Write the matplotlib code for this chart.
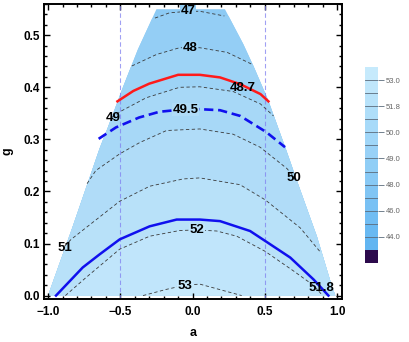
import numpy as np
import matplotlib
matplotlib.use("Agg")
import matplotlib.pyplot as plt
from matplotlib.patches import Polygon
from matplotlib.colors import LinearSegmentedColormap

plt.rcParams['font.family'] = ['Liberation Sans', 'DejaVu Sans']

# 区域边界 (a, g)
dom_a = [-1.0, -0.83, -0.644, -0.586, -0.482, -0.378, -0.25, 0.224, 0.351, 0.421,
         0.525, 0.595, 0.641, 0.733, 0.861, 0.965, 0.988]
dom_g = [0.0, 0.132, 0.282, 0.323, 0.40, 0.473, 0.55, 0.55, 0.483, 0.441,
         0.374, 0.320, 0.285, 0.212, 0.113, 0.017, 0.0]

# 等高线 (虚线)
levels = [47, 48, 49, 50, 51, 52, 53]
c47_a = [-0.26, -0.16, -0.03, 0.05, 0.22]
c47_g = [0.533, 0.543, 0.546, 0.546, 0.537]
c48_a = [-0.42, -0.25, -0.09, 0.05, 0.24, 0.42]
c48_g = [0.441, 0.463, 0.476, 0.476, 0.467, 0.443]
c49_a = [-0.56, -0.49, -0.32, -0.09, 0.05, 0.28, 0.47, 0.56]
c49_g = [0.342, 0.355, 0.38, 0.40, 0.401, 0.392, 0.368, 0.345]
c50_a = [-0.73, -0.67, -0.505, -0.365, -0.18, 0.05, 0.28, 0.467, 0.653, 0.72]
c50_g = [0.215, 0.240, 0.272, 0.294, 0.317, 0.320, 0.31, 0.285, 0.244, 0.222]
c51_a = [-0.885, -0.84, -0.505, -0.297, -0.065, 0.05, 0.328, 0.502, 0.745, 0.88]
c51_g = [0.095, 0.108, 0.181, 0.21, 0.224, 0.226, 0.213, 0.184, 0.13, 0.085]
c52_a = [-0.88, -0.74, -0.505, -0.297, -0.088, 0.03, 0.167, 0.306, 0.502, 0.70, 0.84, 0.90]
c52_g = [0.0, 0.034, 0.089, 0.114, 0.125, 0.126, 0.124, 0.114, 0.085, 0.047, 0.019, 0.0]
c53_a = [-0.343, -0.18, -0.05, 0.05, 0.34]
c53_g = [0.0, 0.012, 0.02, 0.022, 0.0]
contours = [(c47_a, c47_g), (c48_a, c48_g), (c49_a, c49_g), (c50_a, c50_g),
            (c51_a, c51_g), (c52_a, c52_g), (c53_a, c53_g)]

# 特殊等高线
red_a = [-0.52, -0.41, -0.30, -0.10, 0.05, 0.19, 0.33, 0.47, 0.525]
red_g = [0.373, 0.393, 0.407, 0.424, 0.424, 0.419, 0.406, 0.387, 0.373]
bd_a = [-0.65, -0.53, -0.37, -0.23, -0.05, 0.05, 0.19, 0.33, 0.51, 0.64]
bd_g = [0.301, 0.323, 0.342, 0.353, 0.358, 0.358, 0.356, 0.345, 0.314, 0.285]
bs_a = [-0.945, -0.76, -0.644, -0.504, -0.297, -0.11, 0.05, 0.19, 0.398, 0.502, 0.676, 0.837, 0.94]
bs_g = [0.0, 0.054, 0.079, 0.108, 0.133, 0.146, 0.146, 0.143, 0.124, 0.105, 0.073, 0.031, 0.0]

# 标签
lab_txt = ['47', '48', '48.7', '49', '49.5', '50', '51', '52', '53', '51.8']
lab_a = [-0.03, -0.02, 0.35, -0.55, -0.05, 0.70, -0.885, 0.03, -0.05, 0.895]
lab_g = [0.546, 0.476, 0.399, 0.342, 0.357, 0.226, 0.091, 0.125, 0.018, 0.014]
lab_band = [1, 2, None, None, 4, None, None, 6, 7, None]

vlines = [-0.5, 0.5]

cbar_labels = ['53.0', '51.8', '50.0', '49.0', '48.0', '46.0', '44.0']

band_colors = ['#8ccaf4', '#94cef5', '#9dd3f6', '#a7d8f7', '#b0dcf8',
               '#b8e1f9', '#c0e5fb', '#c8eafc']

fig = plt.figure(figsize=(4.09, 3.42), dpi=100)
ax = fig.add_axes([44.3 / 409, 43.3 / 342, 297.4 / 409, 294.7 / 342])

dom = Polygon(np.column_stack([dom_a, dom_g]), closed=True,
              facecolor=band_colors[0], edgecolor='none', zorder=1)
ax.add_patch(dom)
for i, (ca, cg) in enumerate(contours):
    xs = [ca[0] - 3] + list(ca) + [ca[-1] + 3, ca[-1] + 3, ca[0] - 3]
    ys = [cg[0]] + list(cg) + [cg[-1], -1, -1]
    p = Polygon(np.column_stack([xs, ys]), closed=True,
                facecolor=band_colors[i + 1], edgecolor='none', zorder=1)
    ax.add_patch(p)
    p.set_clip_path(dom)

for v in vlines:
    ax.axvline(v, color='#8080f0', lw=0.8, ls=(0, (4, 2.5)), alpha=0.75, zorder=2)

for ca, cg in contours:
    ax.plot(ca, cg, color='#3a3a3a', lw=0.6, ls=(0, (4, 3)), zorder=3)

ax.plot(red_a, red_g, color='#ff1a1a', lw=1.8, zorder=4)
ax.plot(bd_a, bd_g, color='#1010ee', lw=1.9, ls=(0, (3.5, 1.8)), zorder=4)
ax.plot(bs_a, bs_g, color='#1010ee', lw=1.8, zorder=4)

for t, x, y, b in zip(lab_txt, lab_a, lab_g, lab_band):
    kw = {}
    if b is not None:
        kw['bbox'] = dict(boxstyle='square,pad=0.05', fc=band_colors[b], ec='none')
    ax.text(x, y, t, fontsize=9.5, fontweight='bold', ha='center', va='center',
            zorder=5, **kw)

ax.set_xlim(-1.026, 1.032)
ax.set_ylim(-0.006, 0.558)
ax.set_xticks([-1.0, -0.5, 0.0, 0.5, 1.0])
ax.set_xticks(np.arange(-1.0, 1.01, 0.1), minor=True)
ax.set_yticks([0.0, 0.1, 0.2, 0.3, 0.4, 0.5])
ax.set_yticks(np.arange(0.0, 0.56, 0.02), minor=True)
ax.set_xticklabels(['\u22121.0', '\u22120.5', '0.0', '0.5', '1.0'])
ax.tick_params(which='both', direction='in', top=True, right=True, width=1.0)
ax.tick_params(which='major', length=4.5, labelsize=8.5)
ax.tick_params(which='minor', length=2.5)
ax.tick_params(axis='x', pad=5)
ax.tick_params(axis='y', pad=3)
for lbl in ax.get_xticklabels() + ax.get_yticklabels():
    lbl.set_fontweight('bold')
for s in ax.spines.values():
    s.set_linewidth(1.4)
ax.set_xlabel('a', fontsize=9, fontweight='bold')
ax.set_ylabel('g', fontsize=9, fontweight='bold')
ax.xaxis.set_label_coords(0.499, -0.095)
ax.yaxis.set_label_coords(-0.103, 0.499)

# 图例条
cax = fig.add_axes([365 / 409, 79 / 342, 13 / 409, 196 / 342])
cmap = LinearSegmentedColormap.from_list('cb', ['#62b5f1', '#c6eafc'])
nb = 14
cax.bar(0.5, 1, bottom=0, width=1, color='#2c0a4c', edgecolor='none')
for k in range(nb):
    cax.bar(0.5, 1, bottom=k + 1, width=1, color=cmap(k / (nb - 1)), edgecolor='none')
for k in range(2, nb + 1):
    cax.axhline(k, color='#5c6c7c', lw=0.6)
cax.set_xlim(0, 1)
cax.set_ylim(0, nb + 1)
cax.set_xticks([])
cax.set_yticks([14, 12, 10, 8, 6, 4, 2])
cax.set_yticklabels(cbar_labels)
cax.yaxis.tick_right()
cax.tick_params(axis='y', length=4, width=0.6, color='#5c6c7c', labelsize=5.5,
                labelcolor='#666666', pad=1.5)
for s in cax.spines.values():
    s.set_visible(False)

fig.savefig('out.png', dpi=100)
